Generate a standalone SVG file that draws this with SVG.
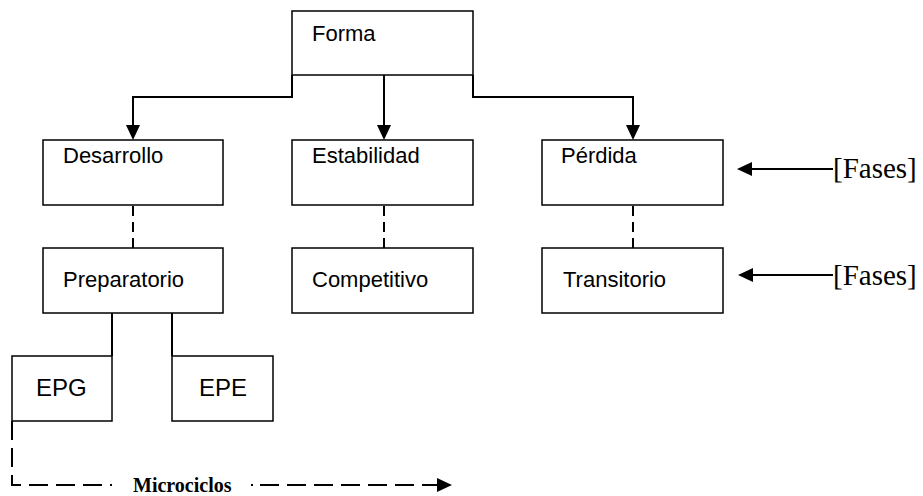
<svg xmlns="http://www.w3.org/2000/svg" width="923" height="496" viewBox="0 0 923 496">
<style>
.box{fill:#fff;stroke:#000;stroke-width:1.5}
.lbl{font-family:"Liberation Sans",Arial,sans-serif;font-size:22px;fill:#000}
.big{font-size:24px}
.ser{font-family:"Liberation Serif","Times New Roman",serif;fill:#000}
.con{fill:none;stroke:#000;stroke-width:2}
.dash{stroke-dasharray:10 6}
.ldash{stroke-dasharray:19 8}
</style>
<defs>
<marker id="arr" viewBox="0 0 15 14" refX="0" refY="7" markerWidth="15" markerHeight="14" markerUnits="userSpaceOnUse" orient="auto">
<path d="M0,0 L15,7 L0,14 Z" fill="#000" stroke="none"/>
</marker>
</defs>
<rect width="923" height="496" fill="#fff"/>
<g id="connectors">
<path class="con" d="M292,75 V97 H133 V125" marker-end="url(#arr)"/>
<path class="con" d="M384,75 V125" marker-end="url(#arr)"/>
<path class="con" d="M473,75 V97 H633 V125" marker-end="url(#arr)"/>
<path class="con dash" d="M133,206 V248"/>
<path class="con dash" d="M384,206 V248"/>
<path class="con dash" d="M633,206 V248"/>
<path class="con" d="M112,313 V356"/>
<path class="con" d="M172,313 V356"/>
<path class="con" d="M833,169 H752" marker-end="url(#arr)"/>
<path class="con" d="M833,275 H753" marker-end="url(#arr)"/>
<path class="con ldash" d="M12,421 V485 H112"/>
<path class="con" d="M251,485 H253"/>
<path class="con ldash" d="M260,485 H437" marker-end="url(#arr)"/>
</g>
<g id="forma"><rect class="box" x="292" y="11" width="181" height="64"/><text class="lbl" x="312" y="41">Forma</text></g>
<g id="desarrollo"><rect class="box" x="43" y="140" width="180" height="65"/><text class="lbl" x="63" y="163">Desarrollo</text></g>
<g id="estabilidad"><rect class="box" x="292" y="140" width="181" height="65"/><text class="lbl" x="312" y="163">Estabilidad</text></g>
<g id="perdida"><rect class="box" x="542" y="140" width="181" height="65"/><text class="lbl" x="561" y="163">Pérdida</text></g>
<g id="preparatorio"><rect class="box" x="43" y="248" width="180" height="65"/><text class="lbl" x="63" y="287">Preparatorio</text></g>
<g id="competitivo"><rect class="box" x="292" y="248" width="181" height="65"/><text class="lbl" x="312" y="287">Competitivo</text></g>
<g id="transitorio"><rect class="box" x="542" y="248" width="181" height="65"/><text class="lbl" x="563" y="287">Transitorio</text></g>
<g id="epg"><rect class="box" x="12" y="356" width="100" height="65"/><text class="lbl big" x="36" y="396">EPG</text></g>
<g id="epe"><rect class="box" x="172" y="356" width="101" height="65"/><text class="lbl big" x="199" y="396">EPE</text></g>
<g id="fases1"><text class="ser" x="833" y="178" font-size="29">[Fases]</text></g>
<g id="fases2"><text class="ser" x="833" y="285" font-size="29">[Fases]</text></g>
<g id="microciclos"><text class="ser" x="133" y="492" font-size="20" font-weight="bold">Microciclos</text></g>
</svg>
